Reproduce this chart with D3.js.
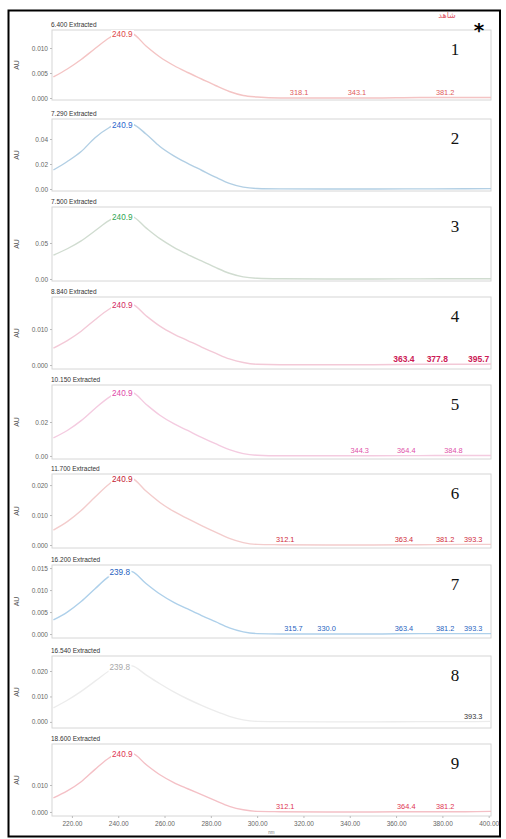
<!DOCTYPE html>
<html>
<head>
<meta charset="utf-8">
<script src="https://cdn.jsdelivr.net/npm/d3@7"></script>
<style>
  body { margin: 0; background: #fff; }
  svg { font-family: "Liberation Sans", Arial, sans-serif; }
</style>
</head>
<body>
<svg id="chart" width="506" height="839"></svg>
<script>
// wavelengths (nm) shared by every extracted spectrum
const wavelengths = [212, 218, 224, 230, 236, 241, 246, 252, 258, 264, 270, 276, 282, 288, 294, 300, 310, 330, 350, 370, 390, 401];

// absorbance (AU)
const spectrum1 = [0.0042, 0.0058, 0.0077, 0.0099, 0.0120, 0.0132, 0.0129, 0.0104, 0.0082, 0.0065, 0.0051, 0.0038, 0.0025, 0.0013, 0.0005, 0.0002, 0.0000, 0.0000, 0.0000, 0.0001, 0.0001, 0.0001];
const spectrum2 = [0.0152, 0.0220, 0.0300, 0.0410, 0.0490, 0.0530, 0.0520, 0.0440, 0.0340, 0.0265, 0.0205, 0.0150, 0.0095, 0.0045, 0.0015, 0.0004, 0.0001, 0.0000, 0.0000, 0.0001, 0.0002, 0.0003];
const spectrum3 = [0.0330, 0.0420, 0.0530, 0.0670, 0.0810, 0.0890, 0.0870, 0.0710, 0.0560, 0.0440, 0.0340, 0.0250, 0.0160, 0.0080, 0.0030, 0.0010, 0.0003, 0.0000, 0.0000, 0.0002, 0.0003, 0.0004];
const spectrum4 = [0.0047, 0.0068, 0.0094, 0.0126, 0.0155, 0.0172, 0.0169, 0.0137, 0.0108, 0.0086, 0.0068, 0.0050, 0.0033, 0.0017, 0.0007, 0.0002, 0.0001, 0.0001, 0.0001, 0.0002, 0.0002, 0.0003];
const spectrum5 = [0.0106, 0.0150, 0.0208, 0.0280, 0.0345, 0.0382, 0.0375, 0.0305, 0.0240, 0.0190, 0.0150, 0.0110, 0.0072, 0.0037, 0.0014, 0.0004, 0.0001, 0.0001, 0.0001, 0.0002, 0.0003, 0.0003];
const spectrum6 = [0.0050, 0.0078, 0.0115, 0.0160, 0.0203, 0.0227, 0.0222, 0.0180, 0.0142, 0.0112, 0.0088, 0.0065, 0.0043, 0.0022, 0.0008, 0.0002, 0.0001, 0.0000, 0.0000, 0.0001, 0.0002, 0.0002];
const spectrum7 = [0.0032, 0.0050, 0.0074, 0.0103, 0.0131, 0.0146, 0.0142, 0.0115, 0.0091, 0.0072, 0.0057, 0.0042, 0.0028, 0.0014, 0.0005, 0.0001, 0.0000, 0.0000, 0.0000, 0.0001, 0.0001, 0.0001];
const spectrum8 = [0.0055, 0.0085, 0.0120, 0.0160, 0.0200, 0.0224, 0.0220, 0.0185, 0.0150, 0.0118, 0.0090, 0.0065, 0.0042, 0.0022, 0.0008, 0.0002, 0.0001, 0.0000, 0.0000, 0.0001, 0.0001, 0.0002];
const spectrum9 = [0.0052, 0.0078, 0.0112, 0.0158, 0.0200, 0.0222, 0.0218, 0.0176, 0.0138, 0.0109, 0.0086, 0.0064, 0.0042, 0.0021, 0.0008, 0.0002, 0.0001, 0.0000, 0.0000, 0.0001, 0.0001, 0.0002];

const titles = ['6.400 Extracted', '7.290 Extracted', '7.500 Extracted', '8.840 Extracted', '10.150 Extracted', '11.700 Extracted', '16.200 Extracted', '16.540 Extracted', '18.600 Extracted'];
const mainPeaks = [240.9, 240.9, 240.9, 240.9, 240.9, 240.9, 239.8, 239.8, 240.9];
const minorPeaks = [
  [318.1, 343.1, 381.2],
  [],
  [],
  [363.4, 377.8, 395.7],
  [344.3, 364.4, 384.8],
  [312.1, 363.4, 381.2, 393.3],
  [315.7, 330.0, 363.4, 381.2, 393.3],
  [393.3],
  [312.1, 364.4, 381.2]
];
const yDomains = [[-0.0004, 0.0136], [-0.0016, 0.056], [-0.0028, 0.1], [-0.0011, 0.0189], [-0.0018, 0.0418], [-0.001, 0.0237], [-0.0009, 0.0157], [-0.0024, 0.0259], [-0.0015, 0.0252]];
const yTicks = [[0, 0.005, 0.010], [0, 0.02, 0.04], [0, 0.05], [0, 0.010], [0, 0.02], [0, 0.010, 0.020], [0, 0.005, 0.010, 0.015], [0, 0.010, 0.020], [0, 0.010]];
const yFormats = ['.3f', '.2f', '.2f', '.3f', '.2f', '.3f', '.3f', '.3f', '.3f'];
const xTicks = [220, 240, 260, 280, 300, 320, 340, 360, 380, 400];
const panelNumbers = ['1', '2', '3', '4', '5', '6', '7', '8', '9'];

const spectra = [spectrum1, spectrum2, spectrum3, spectrum4, spectrum5, spectrum6, spectrum7, spectrum8, spectrum9];

// layout: plot box top / bottom for each panel
const panelTop = [30, 119, 207, 297, 385, 474, 565, 656, 744];
const panelBottom = [100, 191, 281, 369, 459, 548, 638, 728, 816];
const curveColors = ['#f4c4c4', '#b2cfe4', '#d0dcd0', '#f3c9d7', '#f4cbe0', '#f3cccc', '#aed0ea', '#ececec', '#f4c0c6'];
const labelColors = ['#e04848', '#2a66cc', '#2fa552', '#d2285e', '#e048a8', '#c42030', '#1f5fc0', '#a8a8a8', '#e03552'];
const minorColors = ['#e05a5a', '#2a66cc', '#2fa552', '#cc1a55', '#e052a8', '#d02a3a', '#1f5fc0', '#333333', '#e03552'];

const svg = d3.select('#chart');

const x = d3.scaleLinear().domain([211.4, 401]).range([52, 491]);

// outer frame
svg.append('rect')
  .attr('x', 8.5).attr('y', 10.5)
  .attr('width', 491.5).attr('height', 826)
  .attr('fill', 'none').attr('stroke', '#000').attr('stroke-width', 2);

spectra.forEach((values, i) => {
  const y = d3.scaleLinear().domain(yDomains[i]).range([panelBottom[i], panelTop[i]]);
  const g = svg.append('g').attr('class', 'panel');

  g.append('rect')
    .attr('x', x.range()[0]).attr('y', panelTop[i])
    .attr('width', x.range()[1] - x.range()[0])
    .attr('height', panelBottom[i] - panelTop[i])
    .attr('fill', 'none').attr('stroke', '#d6d6d6').attr('stroke-width', 1);

  // y axis
  const yAxis = d3.axisLeft(y).tickValues(yTicks[i]).tickSize(2).tickFormat(d3.format(yFormats[i]));
  const ya = g.append('g').attr('transform', `translate(${x.range()[0]},0)`).call(yAxis);
  ya.select('.domain').remove();
  ya.selectAll('line').attr('stroke', '#bbb');
  ya.selectAll('text').attr('font-size', 6.5).attr('fill', '#666').attr('x', -4)
    .attr('font-family', null);

  g.append('text')
    .attr('transform', `translate(17,${(panelTop[i] + panelBottom[i]) / 2}) rotate(-90)`)
    .attr('text-anchor', 'middle').attr('dy', '0.35em')
    .attr('font-size', 7).attr('fill', '#555')
    .text('AU');

  g.append('text')
    .attr('x', 51).attr('y', panelTop[i] - 3)
    .attr('font-size', 6.5).attr('fill', '#333')
    .text(titles[i]);

  const line = d3.line()
    .x((d, j) => x(wavelengths[j]))
    .y((d) => y(d))
    .curve(d3.curveMonotoneX);

  g.append('path')
    .datum(values)
    .attr('d', line)
    .attr('fill', 'none')
    .attr('stroke', curveColors[i])
    .attr('stroke-width', 1.4);

  // main peak label with white box
  const peakVal = d3.max(values);
  const box = g.append('rect').attr('fill', '#fff');
  const lbl = g.append('text')
    .attr('x', x(mainPeaks[i]) + 2).attr('y', y(peakVal) + 5)
    .attr('text-anchor', 'middle')
    .attr('font-size', 8.2).attr('fill', labelColors[i])
    .text(mainPeaks[i].toFixed(1));
  const bb = lbl.node().getBBox();
  box.attr('x', bb.x - 1).attr('y', bb.y)
    .attr('width', bb.width + 2).attr('height', bb.height);

  // minor peak labels near the baseline
  g.selectAll('.minor')
    .data(minorPeaks[i])
    .join('text')
    .attr('class', 'minor')
    .attr('x', (d) => x(d))
    .attr('y', y(0) - 3)
    .attr('text-anchor', 'middle')
    .attr('font-size', i === 3 ? 8.5 : 7.4)
    .attr('font-weight', i === 3 ? 'bold' : 'normal')
    .attr('fill', minorColors[i])
    .text((d) => d.toFixed(1));

  g.append('text')
    .attr('x', 455).attr('y', panelTop[i] + 25)
    .attr('text-anchor', 'middle')
    .style('font-family', '"Liberation Serif", "Times New Roman", serif')
    .attr('font-size', 17).attr('fill', '#111')
    .text(panelNumbers[i]);

  if (i === spectra.length - 1) {
    const xAxis = d3.axisBottom(x).tickValues(xTicks).tickSize(2).tickFormat(d3.format('.2f'));
    const xa = g.append('g').attr('transform', `translate(0,${panelBottom[i]})`).call(xAxis);
    xa.select('.domain').remove();
    xa.selectAll('line').attr('stroke', '#bbb');
    xa.selectAll('text').attr('font-size', 6.5).attr('fill', '#666');
    g.append('text')
      .attr('x', (x.range()[0] + x.range()[1]) / 2).attr('y', 834)
      .attr('text-anchor', 'middle').attr('font-size', 4.5).attr('fill', '#777')
      .text('nm');
  }
});

svg.append('text')
  .attr('x', 447).attr('y', 18)
  .attr('text-anchor', 'middle')
  .style('font-family', '"DejaVu Sans", "Noto Sans", sans-serif')
  .attr('font-size', 8).attr('fill', '#e05a6a')
  .text('شاهد');

svg.append('text')
  .attr('x', 479).attr('y', 37)
  .attr('text-anchor', 'middle')
  .style('font-family', '"DejaVu Sans", sans-serif')
  .attr('font-weight', 'bold')
  .attr('font-size', 20).attr('fill', '#000')
  .text('*');
</script>
</body>
</html>
